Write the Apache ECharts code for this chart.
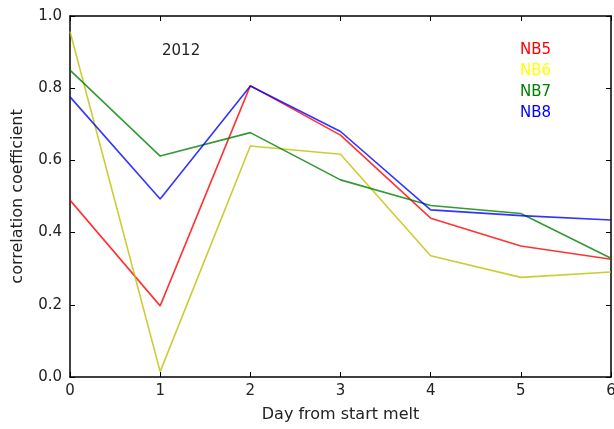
<!DOCTYPE html>
<html>
<head>
<meta charset="utf-8">
<script src="https://cdn.jsdelivr.net/npm/echarts@6/dist/echarts.min.js"></script>
<style>
  html, body { margin: 0; padding: 0; background: #fff; }
  #main { width: 614px; height: 429px; }
</style>
</head>
<body>
<div id="main"></div>
<script>
var days = [0, 1, 2, 3, 4, 5, 6];
var nb5 = [0.49, 0.197, 0.807, 0.670, 0.440, 0.363, 0.326];
var nb6 = [0.957, 0.015, 0.640, 0.617, 0.336, 0.276, 0.291];
var nb7 = [0.850, 0.612, 0.677, 0.546, 0.475, 0.453, 0.329];
var nb8 = [0.776, 0.493, 0.806, 0.680, 0.463, 0.447, 0.435];

var names = ['NB5', 'NB6', 'NB7', 'NB8'];
var lineColors = ['#ff0000', '#bfbf00', '#008000', '#0000ff'];
var textColors = ['#ff0000', '#ffff00', '#008000', '#0000ff'];

function pairs(arr) {
  return days.map(function (d, i) { return [d, arr[i]]; });
}

var chart = echarts.init(document.getElementById('main'));
var font = 'DejaVu Sans';

var tick = { show: true, inside: true, length: 5, lineStyle: { color: '#000', width: 1 } };
var axLine = { show: true, onZero: false, lineStyle: { color: '#000', width: 1.5 } };

var option = {
  animation: false,
  backgroundColor: '#fff',
  textStyle: { fontFamily: font },
  title: {
    text: '2012',
    left: 157,
    top: 39,
    textStyle: { fontFamily: font, fontSize: 15, fontWeight: 'normal', color: '#222' }
  },
  legend: {
    orient: 'vertical',
    left: 510,
    top: 38,
    icon: 'none',
    itemWidth: 0,
    itemHeight: 15,
    itemGap: 6,
    textStyle: { fontFamily: font, fontSize: 15 },
    data: names.map(function (n, i) {
      return { name: n, textStyle: { color: textColors[i] } };
    })
  },
  grid: { left: 70, top: 16, right: 3, bottom: 52, outerBoundsMode: 'none' },
  xAxis: [{
    type: 'value', min: 0, max: 6, interval: 1,
    name: 'Day from start melt', nameLocation: 'middle', nameGap: 30,
    nameTextStyle: { fontFamily: font, fontSize: 16, color: '#222' },
    axisLine: axLine, axisTick: tick, splitLine: { show: false },
    axisLabel: { fontFamily: font, fontSize: 15, color: '#222', margin: 7 }
  }, {
    type: 'value', min: 0, max: 6, interval: 1, position: 'top',
    axisLine: axLine, axisTick: tick, splitLine: { show: false },
    axisLabel: { show: false }
  }],
  yAxis: [{
    type: 'value', min: 0, max: 1, interval: 0.2,
    name: 'correlation coefficient', nameLocation: 'middle', nameGap: 44,
    nameTextStyle: { fontFamily: font, fontSize: 16, color: '#222' },
    axisLine: axLine, axisTick: tick, splitLine: { show: false },
    axisLabel: { fontFamily: font, fontSize: 15, color: '#222', margin: 8,
      formatter: function (v) { return v.toFixed(1); } }
  }, {
    type: 'value', min: 0, max: 1, interval: 0.2, position: 'right',
    axisLine: axLine, axisTick: tick, splitLine: { show: false },
    axisLabel: { show: false }
  }],
  series: [nb5, nb6, nb7, nb8].map(function (arr, i) {
    return {
      name: names[i],
      type: 'line',
      data: pairs(arr),
      showSymbol: false,
      symbol: 'none',
      color: lineColors[i],
      lineStyle: { color: lineColors[i], width: 1.6, opacity: 0.8 },
      emphasis: { disabled: true }
    };
  })
};

chart.setOption(option);
</script>
</body>
</html>
